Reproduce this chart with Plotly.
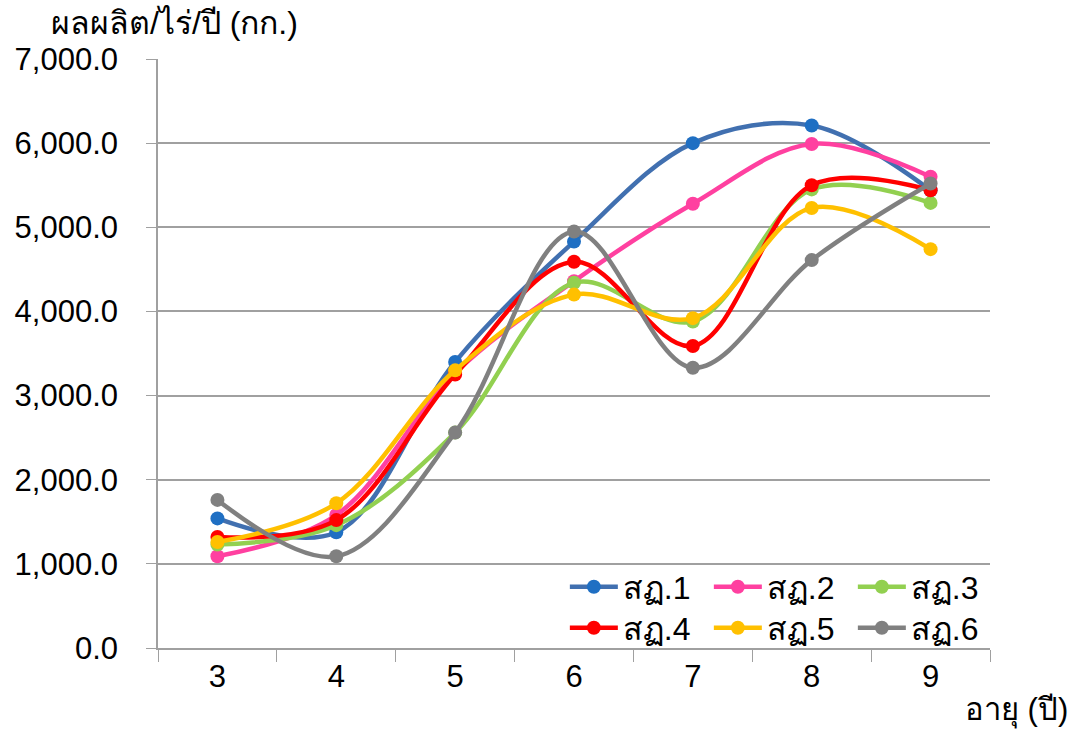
import plotly.graph_objects as go

ages = ["3", "4", "5", "6", "7", "8", "9"]
names = ["สฏ.1", "สฏ.2", "สฏ.3", "สฏ.4", "สฏ.5", "สฏ.6"]
s1 = [1540, 1375, 3400, 4830, 6000, 6210, 5440]
s2 = [1090, 1580, 3270, 4360, 5280, 5990, 5600]
s3 = [1230, 1460, 2560, 4340, 3880, 5450, 5290]
s4 = [1320, 1520, 3250, 4590, 3590, 5500, 5440]
s5 = [1260, 1720, 3300, 4200, 3920, 5230, 4740]
s6 = [1760, 1090, 2560, 4950, 3330, 4610, 5520]
series = [s1, s2, s3, s4, s5, s6]
line_colors = ["#4170B0", "#FF40A0", "#92D050", "#FF0000", "#FFC000", "#808080"]
marker_colors = ["#1F6FC3", "#FF40A0", "#92D050", "#FF0000", "#FFC000", "#808080"]
y_ticks = [0, 1000, 2000, 3000, 4000, 5000, 6000, 7000]
y_tick_labels = ["0.0", "1,000.0", "2,000.0", "3,000.0", "4,000.0", "5,000.0", "6,000.0", "7,000.0"]

FONT = "Liberation Sans, Noto Sans, sans-serif"

fig = go.Figure()
for i, (nm, vals) in enumerate(zip(names, series)):
    fig.add_trace(go.Scatter(
        x=ages, y=vals, name=nm, mode="lines+markers",
        line=dict(color=line_colors[i], width=4.5, shape="spline", smoothing=1.0),
        marker=dict(color=marker_colors[i], size=14),
        legend="legend" if i < 3 else "legend2",
    ))

leg_common = dict(orientation="h", xanchor="left", yanchor="middle",
                  entrywidth=81, bgcolor="rgba(0,0,0,0)", font=dict(size=32),
                  itemwidth=48, tracegroupgap=0)

fig.update_layout(
    width=1080, height=729,
    margin=dict(l=158, r=90, t=59, b=81, autoexpand=False),
    paper_bgcolor="white", plot_bgcolor="white",
    font=dict(family=FONT, size=31, color="black"),
    showlegend=True,
    legend=dict(x=0.489, y=0.1036, **leg_common),
    legend2=dict(x=0.489, y=0.034, **leg_common),
    xaxis=dict(type="category", tickson="boundaries", ticks="outside", ticklen=12,
               tickcolor="#A0A0A0", showline=True, linecolor="#A0A0A0", linewidth=1.5,
               showgrid=False, tickfont=dict(size=31), range=[-0.5, 6.5]),
    yaxis=dict(range=[0, 7000], tickvals=y_ticks, ticktext=y_tick_labels,
               ticks="outside", ticklen=10, tickcolor="#A0A0A0",
               showline=True, linecolor="#A0A0A0", linewidth=1.5,
               showgrid=True, gridcolor="#A0A0A0", gridwidth=1.5,
               zeroline=False, tickfont=dict(size=31), ticklabelstandoff=22),
    annotations=[
        dict(text="ผลผลิต/ไร่/ปี (กก.)", xref="paper", yref="paper", x=-0.131, y=1.0,
             xanchor="left", yanchor="bottom", yshift=16, showarrow=False, font=dict(size=32)),
        dict(text="อายุ (ปี)", xref="paper", yref="paper", x=1.0, y=0.0,
             xanchor="left", yanchor="top", xshift=-27, yshift=-42, showarrow=False, font=dict(size=31)),
    ],
)

fig.write_html("out.html")
